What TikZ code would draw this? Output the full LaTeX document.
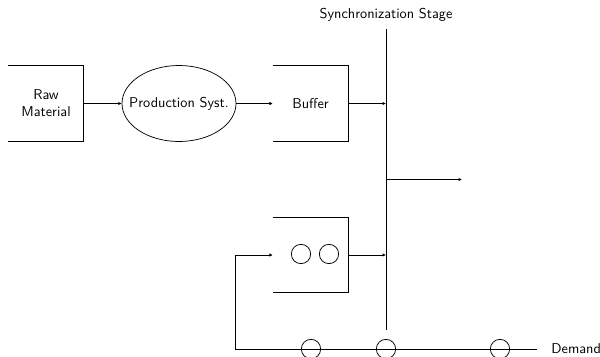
\documentclass[tikz,border=0pt]{standalone}
\usetikzlibrary{arrows.meta,positioning,shapes.geometric}
\begin{document}
\begin{tikzpicture}[x=0.75pt, y=-0.75pt, line width=0.55pt,
    font=\sffamily\fontsize{10.7}{12.8}\selectfont,
    openbox/.style={minimum width=56pt, minimum height=56pt, inner sep=0pt, align=center},
    token/.style={circle, draw, minimum size=14.5pt, inner sep=0pt},
    flow/.style={-{Latex[length=2.5pt,width=2.5pt]}}]
  \useasboundingbox (0,0) rectangle (600,357);

  % Raw material -> production -> buffer
  \node[openbox] (raw) at (46,103.5) {Raw\\Material};
  \draw (raw.north west) -- (raw.north east) -- (raw.south east) -- (raw.south west);
  \node[ellipse, draw, minimum width=85.5pt, minimum height=57pt, inner sep=0pt] (prod) at (179,103.5) {\makebox[0pt]{Production Syst.}};
  \node[openbox] (buffer) at (310.5,103.5) {Buffer};
  \draw (buffer.north west) -- (buffer.north east) -- (buffer.south east) -- (buffer.south west);
  \draw[flow] (raw.east) -- (prod.west);
  \draw[flow] (prod.east) -- (buffer.west);

  % Synchronization stage
  \coordinate (synctop) at (386,29);
  \coordinate (syncbot) at (386,330);
  \draw (synctop) -- (syncbot);
  \node (synclabel) at (386,15) {Synchronization Stage};
  \draw[flow] (buffer.east) -- (buffer.east -| synctop);
  \coordinate (out) at (462,179.5);
  \draw[flow] (out -| synctop) -- (out);

  % Lower box with two tokens
  \node[openbox] (queue) at (310.5,255) {};
  \draw (queue.north west) -- (queue.north east) -- (queue.south east) -- (queue.south west);
  \node[token] (q1) at (301,254) {};
  \node[token] (q2) at (329,254) {};
  \draw[flow] (queue.east) -- (queue.east -| synctop);

  % Demand line and feedback loop
  \coordinate (loop) at (235,349);
  \coordinate (lineend) at (537,349);
  \node[anchor=west, inner xsep=10.5pt] (demand) at (lineend) {Demand};
  \draw (loop) -- (lineend);
  \draw[flow] (loop) |- (queue.west);
  \foreach \x/\n in {311/d1, 386/d2, 500/d3}
    \node[token] (\n) at (\x,349) {};
\end{tikzpicture}
\end{document}
